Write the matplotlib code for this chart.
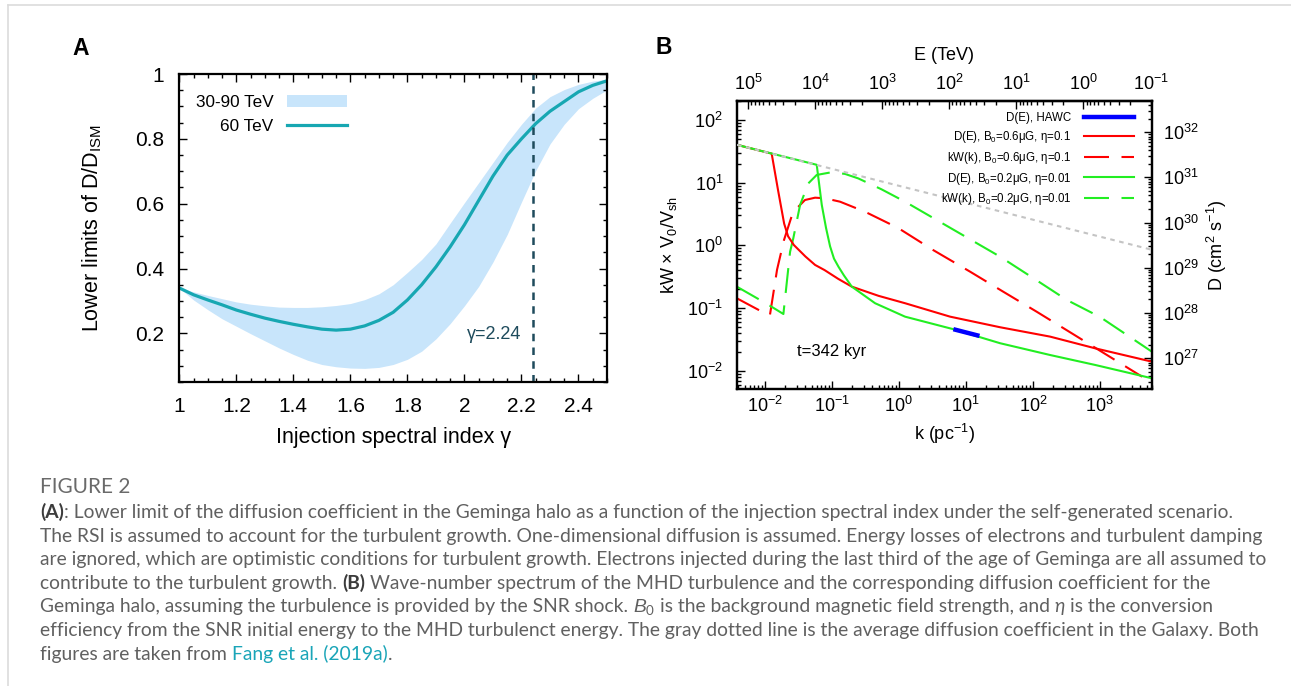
import numpy as np
import matplotlib
matplotlib.use("Agg")
import matplotlib.pyplot as plt
from matplotlib.lines import Line2D
from matplotlib.patches import Patch
from matplotlib.ticker import (MultipleLocator, LogLocator, NullFormatter, FormatStrFormatter,
                               FixedLocator)

plt.rcParams['font.family'] = ['Liberation Sans', 'DejaVu Sans']
plt.rcParams['mathtext.fontset'] = 'custom'
plt.rcParams['mathtext.rm'] = 'Liberation Sans'
plt.rcParams['mathtext.it'] = 'Liberation Sans:italic'
plt.rcParams['mathtext.bf'] = 'Liberation Sans:bold'
plt.rcParams['mathtext.default'] = 'regular'

W, H = 1291, 686

# ---- panel A: lower limit of D/D_ISM vs injection index ----
gamma_a = [1.00, 1.05, 1.10, 1.15, 1.20, 1.25, 1.30, 1.35, 1.40, 1.45, 1.50, 1.55, 1.60,
           1.65, 1.70, 1.75, 1.80, 1.85, 1.90, 1.95, 2.00, 2.05, 2.10, 2.15, 2.20, 2.25,
           2.30, 2.35, 2.40, 2.45, 2.50]
ratio_60 = [0.340, 0.319, 0.303, 0.288, 0.272, 0.259, 0.247, 0.237, 0.228, 0.220, 0.213,
            0.210, 0.213, 0.223, 0.240, 0.265, 0.303, 0.350, 0.405, 0.467, 0.535, 0.610,
            0.685, 0.750, 0.800, 0.847, 0.885, 0.915, 0.945, 0.965, 0.979]
band_hi = [0.340, 0.328, 0.317, 0.307, 0.297, 0.290, 0.285, 0.281, 0.280, 0.280, 0.282,
           0.286, 0.292, 0.304, 0.322, 0.350, 0.388, 0.428, 0.476, 0.540, 0.603, 0.665,
           0.727, 0.789, 0.845, 0.895, 0.930, 0.952, 0.968, 0.978, 0.984]
band_lo = [0.340, 0.303, 0.273, 0.245, 0.222, 0.199, 0.177, 0.155, 0.135, 0.117, 0.104,
           0.097, 0.093, 0.092, 0.095, 0.104, 0.120, 0.145, 0.183, 0.230, 0.285, 0.345,
           0.420, 0.505, 0.605, 0.702, 0.784, 0.845, 0.893, 0.925, 0.951]
gamma_obs = 2.24

# ---- panel B: kW(k) and D(E) for the SNR scenario ----
k_ism = [3.86e-3, 5.97e3]
d_ism = [5.25e31, 2.51e29]

k_red_d = [3.86e-3, 0.0127, 0.0158, 0.0195, 0.0223, 0.0272, 0.0405, 0.0564, 0.0783, 0.125,
           0.199, 0.5, 1.24, 5.83, 32.5, 181, 851, 5970]
d_red = [5.25e31, 3.36e31, 5.25e30, 9.5e29, 5.0e29, 3.2e29, 1.78e29, 1.16e29, 8.9e28, 5.7e28,
         3.84e28, 2.4e28, 1.65e28, 8.32e27, 4.85e27, 3.01e27, 1.66e27, 8.41e26]

k_grn_d = [3.86e-3, 0.0597, 0.0710, 0.0822, 0.0944, 0.108, 0.126, 0.152, 0.199, 0.443, 1.24,
           6.53, 32.5, 181, 851, 5970]
d_grn = [5.25e31, 1.90e31, 2.47e30, 7.64e29, 3.0e29, 1.6e29, 1.06e29, 6.8e28, 3.84e28,
         1.65e28, 8.32e27, 4.39e27, 2.15e27, 1.18e27, 7.11e26, 3.61e26]

k_hawc = [6.53, 16.0]
d_hawc = [4.39e27, 3.12e27]

k_red_w = [3.86e-3, 8.51e-3, 0.01197, 0.01528, 0.0194, 0.0264, 0.0399, 0.0564, 0.0794, 0.133,
           0.314, 0.975, 3.25, 11.6, 36.1, 114, 382, 4276]
w_red = [0.143, 0.091, 0.0776, 0.41, 1.22, 3.39, 5.30, 5.77, 5.64, 4.98,
         3.44, 1.90, 0.845, 0.381, 0.183, 0.0877, 0.0396, 0.00805]

k_grn_w = [3.86e-3, 8.51e-3, 0.0127, 0.0190, 0.0239, 0.0267, 0.0337, 0.0448, 0.0597, 0.1,
           0.158, 0.249, 0.552, 1.24, 32.5, 101, 321, 1009, 5970]
w_grn = [0.219, 0.135, 0.105, 0.0805, 0.79, 1.3, 4.41, 9.77, 13.3, 14.7,
         13.8, 11.7, 7.85, 4.98, 0.661, 0.302, 0.135, 0.0721, 0.0202]

legend_b = ['D(E), HAWC',
            'D(E), B$_0$=0.6μG, η=0.1',
            'kW(k), B$_0$=0.6μG, η=0.1',
            'D(E), B$_0$=0.2μG, η=0.01',
            'kW(k), B$_0$=0.2μG, η=0.01']

TEAL = '#17a7b2'
BAND = '#c8e5fb'
RED = '#ff0000'
GREEN = '#22ee22'

fig = plt.figure(figsize=(W / 100, H / 100), dpi=100)

# light card border
fig.add_artist(Line2D([7.5 / W, 7.5 / W], [0, 1 - 5 / H], transform=fig.transFigure,
                      color='#dcdcdc', lw=1.2))
fig.add_artist(Line2D([7.5 / W, 1], [1 - 5 / H, 1 - 5 / H], transform=fig.transFigure,
                      color='#dcdcdc', lw=1.2))


def frame_style(ax):
    for sp in ax.spines.values():
        sp.set_linewidth(1.6)
    ax.tick_params(which='both', direction='in', top=True, right=True, width=1.0)
    ax.tick_params(which='major', length=6)
    ax.tick_params(which='minor', length=3)


# ---------------- panel A ----------------
axA = fig.add_axes([179.3 / W, (H - 382) / H, (607 - 179.3) / W, (382 - 74) / H])
axA.fill_between(gamma_a, band_lo, band_hi, color=BAND, lw=0)
axA.plot(gamma_a, ratio_60, color=TEAL, lw=2.3)
axA.axvline(gamma_obs, color='#1e4b5c', lw=1.8, dashes=(3, 2.5))
axA.text(2.2, 0.198, 'γ=2.24', color='#1e4b5c', fontsize=13, ha='right', va='center')
axA.set_xlim(1, 2.5)
axA.set_ylim(0.05, 1.0)
axA.xaxis.set_major_locator(MultipleLocator(0.2))
axA.xaxis.set_minor_locator(MultipleLocator(0.05))
axA.yaxis.set_major_locator(MultipleLocator(0.2))
axA.yaxis.set_minor_locator(MultipleLocator(0.05))
axA.xaxis.set_major_formatter(FormatStrFormatter('%g'))
axA.yaxis.set_major_formatter(FormatStrFormatter('%g'))
frame_style(axA)
axA.tick_params(axis='both', labelsize=15)
axA.tick_params(axis='x', pad=11)
axA.tick_params(axis='y', pad=11)
axA.set_xlabel('Injection spectral index γ', fontsize=15.5, labelpad=8)
axA.set_ylabel('Lower limits of D/D$_{ISM}$', fontsize=15.5, labelpad=22)
legA = axA.legend([Patch(color=BAND, lw=0), Line2D([], [], color=TEAL, lw=2.3)],
                  ['30-90 TeV', '60 TeV'], loc='upper right',
                  bbox_to_anchor=((346.7 - 179.3) / (607 - 179.3), 0.932),
                  frameon=False, markerfirst=False, fontsize=12.3, handlelength=3.5,
                  handletextpad=0.8, labelspacing=0.55, borderpad=0, borderaxespad=0)
fig.text(80.5 / W, 1 - 48.3 / H, 'A', fontsize=16.5, fontweight='bold', ha='center', va='center')

# ---------------- panel B ----------------
axB = fig.add_axes([737 / W, (H - 389) / H, (1152 - 737) / W, (389 - 101) / H])
axD = axB.twinx()
axB.set_xscale('log')
axB.set_yscale('log')
axD.set_yscale('log')
axB.set_xlim(3.86e-3, 6.0e3)
axB.set_ylim(10 ** -2.29, 10 ** 2.303)
axD.set_ylim(10 ** 26.32, 10 ** 32.69)

axB.plot(k_red_w, w_red, color=RED, lw=1.5, dashes=(12, 6))
axB.plot(k_grn_w, w_grn, color=GREEN, lw=1.5, dashes=(12, 6))
axD.plot(k_red_d, d_red, color=RED, lw=1.5)
axD.plot(k_grn_d, d_grn, color=GREEN, lw=1.5)
axD.plot(k_hawc, d_hawc, color='#0000ff', lw=3.2, solid_capstyle='butt')
axD.plot(k_ism, d_ism, color='#c4c4c4', lw=1.5, dashes=(2.2, 2.2), zorder=5)

fig.text(832 / W, 1 - 351.7 / H, 't=342 kyr', fontsize=12, ha='center', va='center')

for ax in (axB, axD):
    for sp in ax.spines.values():
        sp.set_linewidth(1.6)
axB.tick_params(which='both', direction='in', top=False, right=False, width=1.0)
axD.tick_params(which='both', direction='in', right=True, left=False, width=1.0)
for ax in (axB, axD):
    ax.tick_params(which='major', length=6)
    ax.tick_params(which='minor', length=3)
    ax.yaxis.set_minor_locator(LogLocator(base=10, subs=np.arange(2, 10)))
    ax.yaxis.set_minor_formatter(NullFormatter())
axB.xaxis.set_minor_locator(LogLocator(base=10, subs=np.arange(2, 10)))
axB.xaxis.set_minor_formatter(NullFormatter())
axB.yaxis.set_major_locator(LogLocator(base=10, numticks=20))
axD.yaxis.set_major_locator(LogLocator(base=10, numticks=20))
axB.xaxis.set_major_locator(LogLocator(base=10, numticks=20))
axB.tick_params(axis='both', labelsize=13)
axD.tick_params(axis='y', labelsize=13, pad=8)
axB.tick_params(axis='y', pad=10)
axB.tick_params(axis='x', pad=5)

E_SCALE = 570.0
e_major = [10.0 ** p for p in range(-1, 6)]
e_minor = [m * 10.0 ** p for p in range(-1, 5) for m in range(2, 10)] + [2e5]
secE = axB.secondary_xaxis('top', functions=(lambda k: E_SCALE / np.maximum(k, 1e-30),
                                             lambda e: E_SCALE / np.maximum(e, 1e-30)))
secE.xaxis.set_major_locator(FixedLocator(e_major))
secE.xaxis.set_minor_locator(FixedLocator(e_minor))
secE.xaxis.set_minor_formatter(NullFormatter())
secE.tick_params(which='both', direction='in', width=1.0, labelsize=13, pad=5)
secE.tick_params(which='major', length=6)
secE.tick_params(which='minor', length=3)
secE.spines['top'].set_linewidth(1.6)
secE.set_xlabel('E (TeV)', fontsize=13, labelpad=10)

axB.set_xlabel('k (pc$^{-1}$)', fontsize=13, labelpad=4)
axB.set_ylabel('kW × V$_0$/V$_{sh}$', fontsize=13, labelpad=6)
axD.set_ylabel('D (cm$^2$ s$^{-1}$)', fontsize=13, labelpad=4.5)

handles_b = [Line2D([], [], color='#0000ff', lw=3.2),
             Line2D([], [], color=RED, lw=1.5),
             Line2D([], [], color=RED, lw=1.5, dashes=(12, 6)),
             Line2D([], [], color=GREEN, lw=1.5),
             Line2D([], [], color=GREEN, lw=1.5, dashes=(12, 6))]
legB = axD.legend(handles_b, legend_b, loc='upper right',
                  bbox_to_anchor=((1133.5 - 737) / 415, (389 - 112) / 288),
                  frameon=False, markerfirst=False, fontsize=8.3, handlelength=4.3,
                  handletextpad=1.1, labelspacing=0.42, borderpad=0, borderaxespad=0)
legB.set_zorder(10)
fig.text(664 / W, 1 - 47.5 / H, 'B', fontsize=16.5, fontweight='bold', ha='center', va='center')

# ---------------- caption ----------------
renderer = fig.canvas.get_renderer()
CAP_FAMILY = ['Lato', 'DejaVu Sans']
CAP_GRAY = '#606060'


def text_width(s, size, **kw):
    t = fig.text(0, 0, s, fontsize=size, family=CAP_FAMILY, **kw)
    w = t.get_window_extent(renderer).width
    t.remove()
    return w


line2 = ('The RSI is assumed to account for the turbulent growth. One-dimensional diffusion '
         'is assumed. Energy losses of electrons and turbulent damping')
cap_size = 11.5 * 1226 / text_width(line2, 11.5)
space_w = text_width('a a', cap_size) - text_width('aa', cap_size)


def put_line(x_px, y_px, runs, size=None):
    size = cap_size if size is None else size
    x = x_px
    for txt, kw in runs:
        style = dict(color=CAP_GRAY, family=CAP_FAMILY)
        style.update(kw)
        lead = len(txt) - len(txt.lstrip(' '))
        trail = len(txt) - len(txt.rstrip(' '))
        x += lead * space_w
        t = fig.text(x / W, 1 - y_px / H, txt.strip(' '), fontsize=size, va='baseline',
                     ha='left', **style)
        x += t.get_window_extent(renderer).width + trail * space_w


BOLD = dict(color='#3c3c3c', fontweight='bold')
LINK = dict(color='#1aa5b8')
caption = [
    [('(A)', BOLD), (': Lower limit of the diffusion coefficient in the Geminga halo as a function '
                     'of the injection spectral index under the self-generated scenario.', {})],
    [(line2, {})],
    [('are ignored, which are optimistic conditions for turbulent growth. Electrons injected during '
      'the last third of the age of Geminga are all assumed to', {})],
    [('contribute to the turbulent growth. ', {}), ('(B)', BOLD),
     (' Wave-number spectrum of the MHD turbulence and the corresponding diffusion coefficient for the', {})],
    [('Geminga halo, assuming the turbulence is provided by the SNR shock. ', {}),
     ('$\\mathit{B}_0$', {}), (' is the background magnetic field strength, and ', {}),
     ('η', dict(style='italic')), (' is the conversion', {})],
    [('efficiency from the SNR initial energy to the MHD turbulenct energy. The gray dotted line is the '
      'average diffusion coefficient in the Galaxy. Both', {})],
    [('figures are taken from ', {}), ('Fang et al. (2019a)', LINK), ('.', {})],
]

put_line(40, 493, [('FIGURE 2', dict(color='#6a6a6a'))], size=cap_size * 1.08)
for i, runs in enumerate(caption):
    put_line(40, 518 + 23.6 * i, runs)

fig.savefig('out.png', dpi=100)
